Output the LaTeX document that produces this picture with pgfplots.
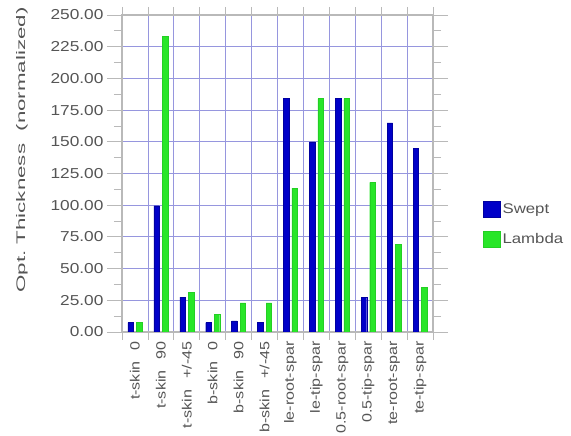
\documentclass[border=0pt]{standalone}
\usepackage{pgfplots}
\pgfplotsset{compat=1.18}
\usepackage{fontspec}
\setmainfont{Liberation Sans}[FakeStretch=1.2]
\newfontfamily\ylabfont{Liberation Sans}[FakeStretch=1.8]
\definecolor{txt}{RGB}{85,85,85}
\definecolor{swept}{RGB}{0,0,200}
\definecolor{lambdac}{RGB}{40,230,40}
\definecolor{gridc}{RGB}{150,150,222}
\definecolor{axc}{RGB}{185,185,185}
\begin{document}
\begin{tikzpicture}[x=1pt,y=1pt]
\useasboundingbox (0,0) rectangle (571,436);
\begin{axis}[
  at={(122pt,104pt)}, anchor=south west,
  scale only axis, width=311pt, height=317pt,
  xmin=-0.5, xmax=11.5, ymin=0, ymax=250,
  ybar, bar width=5.5pt,
  axis line style={draw=axc, line width=1.2pt},
  tick align=outside,
  major tick length=15pt, minor tick length=8pt,
  xtick={0,1,2,3,4,5,6,7,8,9,10,11},
  xticklabels={t-skin\hspace{11pt}0, t-skin\hspace{11pt}90, t-skin\hspace{11pt}+/-45, b-skin\hspace{11pt}0, b-skin\hspace{11pt}90, b-skin\hspace{11pt}+/-45, le-root-spar, le-tip-spar, 0.5-root-spar, 0.5-tip-spar, te-root-spar, te-tip-spar},
  major x tick style={draw=none},
  minor xtick={-0.5,0.5,1.5,2.5,3.5,4.5,5.5,6.5,7.5,8.5,9.5,10.5,11.5},
  minor x tick style={draw=axc, line width=0.8pt},
  xminorgrids,
  minor x grid style={gridc, line width=0.8pt},
  xticklabel shift=-9pt,
  x tick label style={rotate=90, anchor=east, font=\fontsize{13.4}{16}\selectfont, text=txt},
  ytick={0,25,...,250},
  minor y tick num=1,
  ymajorgrids,
  major y grid style={gridc, line width=0.8pt},
  y tick style={draw=axc, line width=0.8pt},
  yticklabel={\pgfmathprintnumber[fixed,fixed zerofill,precision=2,assume math mode=true]{\tick}\hspace{2pt}},
  yticklabel style={font=\fontsize{14.4}{16}\selectfont, text=txt},
  legend style={at={(rel axis cs:1.151,0.34)}, anchor=west, draw=none, fill=none,
    font=\fontsize{14}{16}\selectfont, text=txt, row sep=14pt},
  legend cell align=left,
  legend image code/.code={\fill[#1] (0pt,-8pt) rectangle (17pt,8pt);},
]
\addplot[draw=swept!80!black, fill=swept, bar shift=-4.25pt] coordinates {
(0,7.4) (1,99.6) (2,27.5) (3,7.4) (4,8.7) (5,7.4) (6,184) (7,150) (8,184) (9,27.5) (10,165) (11,145)};
\addlegendentry{Swept}
\addplot[draw=lambdac!90!black, fill=lambdac, bar shift=4.25pt] coordinates {
(0,7.5) (1,233) (2,31.5) (3,14) (4,23) (5,23) (6,113.5) (7,184) (8,184) (9,118) (10,69) (11,35)};
\addlegendentry{Lambda}
\end{axis}
\node[rotate=90, text=txt, font=\ylabfont\fontsize{12.4}{14}\selectfont] at (22,286) {Opt.\ Thickness\ \ (normalized)};
\end{tikzpicture}
\end{document}
